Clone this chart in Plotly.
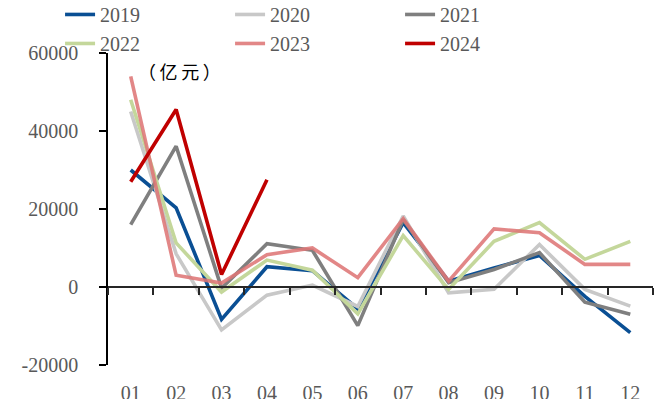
import plotly.graph_objects as go

months = ["01", "02", "03", "04", "05", "06", "07", "08", "09", "10", "11", "12"]

y2019 = [30000, 20300, -8300, 5200, 4200, -5600, 16500, 1500, 4900, 8100, -2400, -11700]
y2020 = [45000, 8500, -11000, -2100, 500, -5000, 18200, -1500, -600, 10900, -600, -4900]
y2021 = [16000, 36100, -300, 11100, 9400, -9900, 17300, 1100, 4500, 8800, -3900, -7000]
y2022 = [48000, 11300, -1300, 6900, 4300, -6900, 13200, -600, 11700, 16500, 7100, 11700]
y2023 = [54000, 3000, 1000, 8300, 10000, 2400, 17500, 1500, 14900, 13900, 5800, 5800]
y2024 = [27000, 45500, 3200, 27500]

series = [
    ("2019", y2019, "#0A4F94"),
    ("2020", y2020, "#C8C8C8"),
    ("2021", y2021, "#7F7F7F"),
    ("2022", y2022, "#C4D79B"),
    ("2023", y2023, "rgba(222,118,118,0.88)"),
    ("2024", y2024, "#C00000"),
]

y_ticks = [-20000, 0, 20000, 40000, 60000]
y_tick_text = ["-20000", "0", "20000", "40000", "60000"]
y_range = [-20000, 60000]

fig = go.Figure()
for name, vals, color in series:
    fig.add_trace(go.Scatter(
        x=months[:len(vals)], y=vals, name=name, mode="lines",
        line=dict(color=color, width=3.6),
    ))

# empty helper trace so the zero-crossing category axis gets drawn
fig.add_trace(go.Scatter(
    x=months, y=[None] * len(months), xaxis="x2", yaxis="y",
    mode="lines", showlegend=False, hoverinfo="skip",
))

serif = "Liberation Serif, Times New Roman, serif"
zero_pos = (0 - y_range[0]) / (y_range[1] - y_range[0])

fig.update_layout(
    width=660, height=399,
    margin=dict(l=108, r=7, t=53, b=34, autoexpand=False),
    paper_bgcolor="white", plot_bgcolor="white",
    showlegend=True,
    legend=dict(
        orientation="h", xref="container", yref="paper",
        x=0.091, y=1.186, xanchor="left", yanchor="top",
        entrywidth=125, entrywidthmode="pixels",
        font=dict(family=serif, size=20, color="#595959"),
        bgcolor="rgba(0,0,0,0)", tracegroupgap=0,
    ),
    xaxis=dict(
        type="category", categoryorder="array", categoryarray=months,
        range=[-0.5, 11.5],
        showline=False, showgrid=False, zeroline=False,
        ticks="", ticklabelstandoff=14,
        tickfont=dict(family=serif, size=20, color="#595959"),
    ),
    xaxis2=dict(
        type="category", categoryorder="array", categoryarray=months,
        overlaying="x", matches="x", anchor="free", position=zero_pos,
        showline=True, linecolor="#262626", linewidth=1.5,
        ticks="outside", ticklen=7, tickwidth=1.5, tickcolor="#262626",
        tickson="boundaries", showticklabels=False,
        showgrid=False, zeroline=False,
    ),
    yaxis=dict(
        range=y_range, tickvals=y_ticks, ticktext=y_tick_text,
        showline=True, linecolor="#000000", linewidth=1.5,
        ticks="outside", ticklen=7, tickwidth=1.5, tickcolor="#000000",
        showgrid=False, zeroline=False, ticklabelstandoff=17,
        tickfont=dict(family=serif, size=20, color="#595959"),
    ),
    annotations=[dict(
        text="（\u2009亿\u2009元\u2009）", xref="paper", yref="paper", x=0.132, y=0.942,
        xanchor="center", yanchor="middle",
        showarrow=False, font=dict(family="Noto Sans CJK SC", size=18, color="#000000"),
    )],
)

fig.write_html("out.html")
